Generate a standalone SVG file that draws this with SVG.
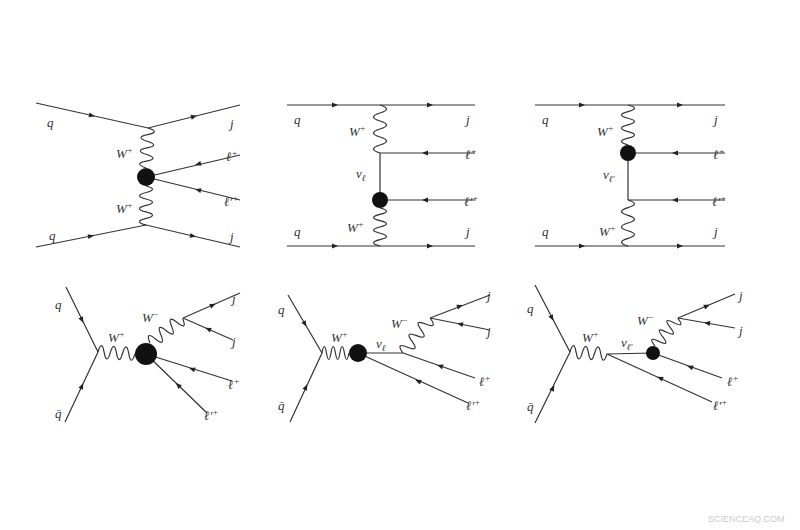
<svg xmlns="http://www.w3.org/2000/svg" xmlns:xlink="http://www.w3.org/1999/xlink" width="800" height="530" viewBox="0 0 800 530">
<style>
.l{stroke:#333;stroke-width:1.2;fill:none}
.w{stroke:#333;stroke-width:1.2;fill:none}
.b{fill:#111}
.ar{fill:#222}
text{font-family:"Liberation Serif","DejaVu Serif",serif;font-style:italic;font-size:13px;fill:#333}
.s{font-size:9px}
.wm{font-family:"Liberation Sans",sans-serif;font-style:normal;font-size:9px;fill:#ccc}
</style>
<defs>
<path id="w" d="M0 0 q4 -13 8 0 t8 0 t8 0 t8 0 t8 0 t8 0" vector-effect="non-scaling-stroke" class="w"/>
<path id="a" d="M3 0 L-3 -2.5 L-3 2.5Z" class="ar"/>
</defs>
<rect width="800" height="530" fill="#fff"/>
<g id="connectors">
<path class="l" d="M36 103 L148 128 L240 105 M36 247 L146 225 L240 247 M240 155 L146 177 L240 200"/>
<use href="#w" transform="translate(148,128) rotate(92.9) scale(0.83,1)"/>
<use href="#w" transform="translate(146,186) rotate(90) scale(0.81,1)"/>
<path class="l" d="M287 105 H475 M287 246 H475 M380 153 V200 M380 153 H475 M380 200 H475"/>
<use href="#w" transform="translate(380,105) rotate(90) scale(1,1)"/>
<use href="#w" transform="translate(380,208) rotate(90) scale(0.79,1)"/>
<path class="l" d="M535 105 H725 M535 246 H725 M628 153 V200 M628 153 H725 M628 200 H725"/>
<use href="#w" transform="translate(628,105) rotate(90) scale(0.83,1)"/>
<use href="#w" transform="translate(628,200) rotate(90) scale(0.96,1)"/>
<path class="l" d="M66 287 L98 352 L65 422 M183 318 L240 293 M183 318 L233 340 M146 354 L232 381 M146 354 L207 413"/>
<use href="#w" transform="translate(98,352) rotate(3) scale(0.77,1)"/>
<use href="#w" transform="translate(150,343) rotate(-37) scale(0.85,1)"/>
<path class="l" d="M288 295 L322 353 L290 422 M358 353 H403 M430 318 L490 295 M430 318 L490 330 M403 353 L475 378 M358 353 L468 403"/>
<use href="#w" transform="translate(322,353) scale(0.56,1)"/>
<use href="#w" transform="translate(403,353) rotate(-52) scale(0.92,1)"/>
<path class="l" d="M535 285 L570 352 L535 423 M607 354 L653 353 M678 318 L735 294 M678 318 L735 328 M653 353 L722 378 M607 354 L712 402"/>
<use href="#w" transform="translate(570,352) rotate(3) scale(0.77,1)"/>
<use href="#w" transform="translate(655,346) rotate(-51) scale(0.75,1)"/>
<use href="#a" transform="translate(92,115.5) rotate(12.6)"/>
<use href="#a" transform="translate(194,116.5) rotate(-14)"/>
<use href="#a" transform="translate(198,164) rotate(167.4)"/>
<use href="#a" transform="translate(198,190) rotate(193)"/>
<use href="#a" transform="translate(91,236) rotate(-11.3)"/>
<use href="#a" transform="translate(193,236) rotate(13.2)"/>
<use href="#a" transform="translate(335,105)"/>
<use href="#a" transform="translate(430,105)"/>
<use href="#a" transform="translate(425,153) rotate(180)"/>
<use href="#a" transform="translate(425,200) rotate(180)"/>
<use href="#a" transform="translate(335,246)"/>
<use href="#a" transform="translate(430,246)"/>
<use href="#a" transform="translate(582,105)"/>
<use href="#a" transform="translate(680,105)"/>
<use href="#a" transform="translate(675,153) rotate(180)"/>
<use href="#a" transform="translate(675,200) rotate(180)"/>
<use href="#a" transform="translate(582,246)"/>
<use href="#a" transform="translate(680,246)"/>
<use href="#a" transform="translate(82,320) rotate(63.8)"/>
<use href="#a" transform="translate(82,386) rotate(-64.8)"/>
<use href="#a" transform="translate(213,305) rotate(-23.7)"/>
<use href="#a" transform="translate(208,329) rotate(203.7)"/>
<use href="#a" transform="translate(192,369) rotate(196.8)"/>
<use href="#a" transform="translate(178,385) rotate(223.4)"/>
<use href="#a" transform="translate(305,324) rotate(59.6)"/>
<use href="#a" transform="translate(306,387) rotate(-65.1)"/>
<use href="#a" transform="translate(460,306) rotate(-21)"/>
<use href="#a" transform="translate(460,324) rotate(191.3)"/>
<use href="#a" transform="translate(440,366) rotate(199.1)"/>
<use href="#a" transform="translate(418,381) rotate(203.6)"/>
<use href="#a" transform="translate(552,318) rotate(62.4)"/>
<use href="#a" transform="translate(553,388) rotate(-63.8)"/>
<use href="#a" transform="translate(707,306) rotate(-22.8)"/>
<use href="#a" transform="translate(707,323) rotate(190)"/>
<use href="#a" transform="translate(690,367) rotate(198.7)"/>
<use href="#a" transform="translate(660,378) rotate(204.6)"/>
</g>
<g id="n1"><circle class="b" cx="146" cy="177" r="9"/>
<text x="47" y="127">q</text><text x="230" y="128">j</text><text x="116" y="158">W<tspan class="s" dy="-5">+</tspan></text>
<text x="226" y="161">ℓ<tspan class="s" dy="-5">+</tspan></text><text x="224" y="206">ℓ′<tspan class="s" dy="-5">+</tspan></text>
<text x="116" y="213">W<tspan class="s" dy="-5">+</tspan></text><text x="49" y="240">q</text><text x="230" y="241">j</text></g>
<g id="n2"><circle class="b" cx="380" cy="200" r="8"/>
<text x="294" y="124">q</text><text x="466" y="124">j</text><text x="349" y="136">W<tspan class="s" dy="-5">+</tspan></text>
<text x="356" y="178">ν<tspan class="s" dy="3">ℓ</tspan></text>
<text x="465" y="159">ℓ<tspan class="s" dy="-5">+</tspan></text><text x="464" y="206">ℓ′<tspan class="s" dy="-5">+</tspan></text>
<text x="347" y="232">W<tspan class="s" dy="-5">+</tspan></text><text x="294" y="236">q</text><text x="466" y="236">j</text></g>
<g id="n3"><circle class="b" cx="628" cy="153" r="8"/>
<text x="542" y="124">q</text><text x="714" y="124">j</text><text x="597" y="136">W<tspan class="s" dy="-5">+</tspan></text>
<text x="603" y="179">ν<tspan class="s" dy="3">ℓ′</tspan></text>
<text x="713" y="159">ℓ<tspan class="s" dy="-5">+</tspan></text><text x="712" y="206">ℓ′<tspan class="s" dy="-5">+</tspan></text>
<text x="599" y="236">W<tspan class="s" dy="-5">+</tspan></text><text x="542" y="236">q</text><text x="714" y="236">j</text></g>
<g id="n4"><circle class="b" cx="146" cy="354" r="11"/>
<text x="55" y="309">q</text><text x="55" y="418">q̄</text><text x="108" y="342">W<tspan class="s" dy="-5">+</tspan></text>
<text x="142" y="322">W<tspan class="s" dy="-5">−</tspan></text>
<text x="232" y="303">j</text><text x="232" y="346">j</text>
<text x="228" y="389">ℓ<tspan class="s" dy="-5">+</tspan></text><text x="204" y="420">ℓ′<tspan class="s" dy="-5">+</tspan></text></g>
<g id="n5"><circle class="b" cx="358" cy="353" r="9"/>
<text x="278" y="314">q</text><text x="278" y="410">q̄</text><text x="331" y="342">W<tspan class="s" dy="-5">+</tspan></text>
<text x="376" y="348">ν<tspan class="s" dy="3">ℓ</tspan></text>
<text x="391" y="328">W<tspan class="s" dy="-5">−</tspan></text>
<text x="487" y="300">j</text><text x="487" y="336">j</text>
<text x="479" y="386">ℓ<tspan class="s" dy="-5">+</tspan></text><text x="466" y="410">ℓ′<tspan class="s" dy="-5">+</tspan></text></g>
<g id="n6"><circle class="b" cx="653" cy="353" r="7"/>
<text x="527" y="313">q</text><text x="527" y="411">q̄</text><text x="582" y="342">W<tspan class="s" dy="-5">+</tspan></text>
<text x="621" y="347">ν<tspan class="s" dy="3">ℓ′</tspan></text>
<text x="637" y="325">W<tspan class="s" dy="-5">−</tspan></text>
<text x="739" y="300">j</text><text x="739" y="335">j</text>
<text x="727" y="386">ℓ<tspan class="s" dy="-5">+</tspan></text><text x="713" y="410">ℓ′<tspan class="s" dy="-5">+</tspan></text></g>
<text class="wm" x="708" y="522">SCIENCEAQ.COM</text>
</svg>
